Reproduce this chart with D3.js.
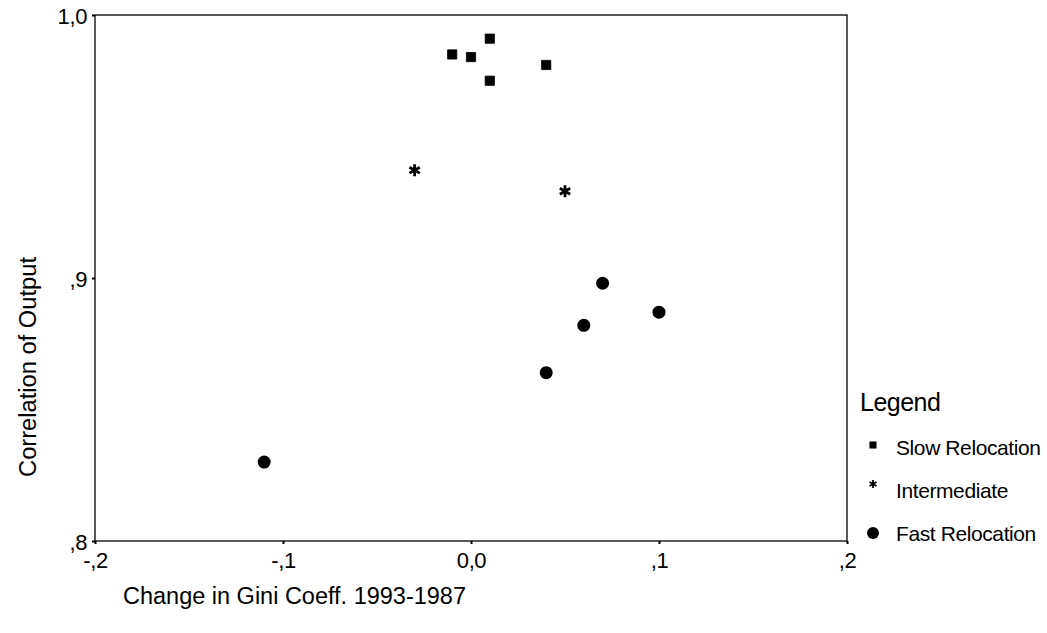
<!DOCTYPE html>
<html>
<head>
<meta charset="utf-8">
<script src="https://cdn.jsdelivr.net/npm/d3@7"></script>
<style>
  body { margin: 0; background: #fff; }
  svg { font-family: "Liberation Sans", Arial, sans-serif; }
</style>
</head>
<body>
<svg id="chart" width="1047" height="633"></svg>
<script>
// Data
var groups = ["Slow Relocation", "Intermediate", "Fast Relocation"];
var slow_x = [-0.01, 0.0, 0.01, 0.01, 0.04];
var slow_y = [0.985, 0.984, 0.991, 0.975, 0.981];
var inter_x = [-0.03, 0.05];
var inter_y = [0.941, 0.933];
var fast_x = [0.07, 0.10, 0.06, 0.04, -0.11];
var fast_y = [0.898, 0.887, 0.882, 0.864, 0.830];
var x_ticks = [-0.2, -0.1, 0.0, 0.1, 0.2];
var x_tick_labels = ["-,2", "-,1", "0,0", ",1", ",2"];
var y_ticks = [0.8, 0.9, 1.0];
var y_tick_labels = [",8", ",9", "1,0"];

var svg = d3.select("#chart");

// plot frame
var margin = {left: 95, top: 15, right: 200, bottom: 92};
var width = 1047, height = 633;

var xScale = d3.scaleLinear()
    .domain([-0.2, 0.2])
    .range([margin.left, width - margin.right]);
var yScale = d3.scaleLinear()
    .domain([0.8, 1.0])
    .range([height - margin.bottom, margin.top]);

// frame box
svg.append("rect")
    .attr("x", xScale(-0.2))
    .attr("y", yScale(1.0))
    .attr("width", xScale(0.2) - xScale(-0.2))
    .attr("height", yScale(0.8) - yScale(1.0))
    .attr("fill", "none")
    .attr("stroke", "#000")
    .attr("stroke-width", 1.3);

// x axis
var xAxis = svg.append("g")
    .attr("transform", `translate(0, ${yScale(0.8)})`)
    .call(d3.axisBottom(xScale)
        .tickValues(x_ticks)
        .tickSize(3)
        .tickFormat((d, i) => x_tick_labels[i]));

// y axis
var yAxis = svg.append("g")
    .attr("transform", `translate(${xScale(-0.2)}, 0)`)
    .call(d3.axisLeft(yScale)
        .tickValues(y_ticks)
        .tickSize(3)
        .tickFormat((d, i) => y_tick_labels[i]));

[xAxis, yAxis].forEach(function(a) {
    a.select(".domain").remove();
    a.selectAll("line").attr("stroke", "#000").attr("stroke-width", 2);
    a.selectAll("text")
        .attr("fill", "#000")
        .style("font-family", "'Liberation Sans', Arial, sans-serif")
        .style("font-size", "22px")
        .style("letter-spacing", "-0.4px");
});
xAxis.selectAll("text").attr("dy", "0.95em").attr("y", 6);
yAxis.selectAll("text").attr("x", -8).attr("dy", "0.38em");

// axis titles
svg.append("text")
    .attr("x", 123)
    .attr("y", 604)
    .attr("font-size", "23px")
    .attr("textLength", 343)
    .attr("lengthAdjust", "spacingAndGlyphs")
    .text("Change in Gini Coeff. 1993-1987");

svg.append("text")
    .attr("transform", "translate(36, 367) rotate(-90)")
    .attr("text-anchor", "middle")
    .attr("font-size", "23px")
    .attr("textLength", 220)
    .attr("lengthAdjust", "spacingAndGlyphs")
    .text("Correlation of Output");

// points
var plot = svg.append("g");

plot.selectAll(".slow")
    .data(d3.zip(slow_x, slow_y))
    .enter()
    .append("path")
    .attr("class", "slow")
    .attr("transform", d => `translate(${xScale(d[0])}, ${yScale(d[1])})`)
    .attr("d", d3.symbol(d3.symbolSquare, 85))
    .attr("fill", "#000")
    .attr("stroke", "#000")
    .attr("stroke-width", 0.8)
    .attr("stroke-linejoin", "round");

plot.selectAll(".inter")
    .data(d3.zip(inter_x, inter_y))
    .enter()
    .append("path")
    .attr("class", "inter")
    .attr("transform", d => `translate(${xScale(d[0])}, ${yScale(d[1])})`)
    .attr("d", d3.symbol(d3.symbolAsterisk, 100))
    .attr("fill", "none")
    .attr("stroke", "#000")
    .attr("stroke-width", 2.8);

plot.selectAll(".fast")
    .data(d3.zip(fast_x, fast_y))
    .enter()
    .append("circle")
    .attr("class", "fast")
    .attr("cx", d => xScale(d[0]))
    .attr("cy", d => yScale(d[1]))
    .attr("r", 6.5)
    .attr("fill", "#000");

// legend
var legend = svg.append("g");
legend.append("text")
    .attr("x", 860)
    .attr("y", 411)
    .attr("font-size", "25px")
    .style("letter-spacing", "-0.5px")
    .text("Legend");

var legendY = [447, 490, 533];
var items = legend.selectAll(".item")
    .data(groups)
    .enter()
    .append("g")
    .attr("class", "item")
    .attr("transform", (d, i) => `translate(873, ${legendY[i]})`);

items.each(function(d, i) {
    var g = d3.select(this);
    if (i === 0) {
        g.append("path").attr("transform", "translate(0,-2)")
            .attr("d", d3.symbol(d3.symbolSquare, 50)).attr("fill", "#000");
    } else if (i === 1) {
        g.append("path").attr("transform", "translate(0,-6)")
            .attr("d", d3.symbol(d3.symbolAsterisk, 45))
            .attr("fill", "none").attr("stroke", "#000").attr("stroke-width", 1.8);
    } else {
        g.append("circle").attr("r", 6).attr("fill", "#000");
    }
    g.append("text")
        .attr("x", 23)
        .attr("dy", "0.36em")
        .attr("font-size", "21px")
        .style("letter-spacing", "-0.4px")
        .text(d);
});
</script>
</body>
</html>
